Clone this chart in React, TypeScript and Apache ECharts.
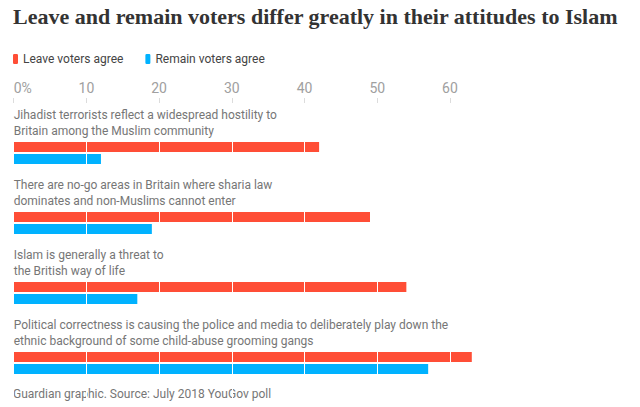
import React, { useEffect, useRef } from "react";
import * as echarts from "echarts";

const categories = [
  "Jihadist terrorists reflect a widespread hostility to\nBritain among the Muslim community",
  "There are no-go areas in Britain where sharia law\ndominates and non-Muslims cannot enter",
  "Islam is generally a threat to\nthe British way of life",
  "Political correctness is causing the police and media to deliberately play down the\nethnic background of some child-abuse grooming gangs",
];
const leaveValues = [42, 49, 54, 63];
const remainValues = [12, 19, 17, 57];
const tickValues = [0, 10, 20, 30, 40, 50, 60];
const seriesNames = ["Leave voters agree", "Remain voters agree"];
const titleText = "Leave and remain voters differ greatly in their attitudes to Islam";
const sourceText = "Guardian graphic. Source: July 2018 YouGov poll";

const SANS = "Roboto, 'Noto Sans', sans-serif";

export default function App() {
  const ref = useRef<HTMLDivElement>(null);
  useEffect(() => {
    document.body.style.margin = "0";
    const chart = echarts.init(ref.current!, null, { renderer: "svg" });
    chart.setOption({
      animation: false,
      backgroundColor: "#ffffff",
      title: {
        text: titleText,
        left: 8,
        top: 0,
        textStyle: {
          fontFamily: "Liberation Serif",
          fontWeight: "bold",
          fontSize: 22,
          color: "#333333",
        },
      },
      legend: {
        data: seriesNames,
        left: 8,
        top: 48,
        icon: "roundRect",
        itemWidth: 5,
        itemHeight: 10,
        itemGap: 22,
        textStyle: { fontFamily: SANS, fontSize: 12, color: "#444444" },
      },
      grid: { left: 13.7, right: 117.3, top: 118, bottom: 9, containLabel: false },
      xAxis: {
        type: "value",
        position: "top",
        min: 0,
        max: 70,
        interval: 10,
        offset: 15,
        z: 5,
        axisLine: { show: false },
        axisTick: {
          show: true,
          length: 5,
          lineStyle: { color: "#dcdcdc" },
          customValues: tickValues,
        },
        axisLabel: {
          customValues: tickValues,
          formatter: (v: number) => (v === 0 ? "0%" : String(v)),
          margin: 8,
          color: "#a0a0a0",
          fontSize: 14,
          fontFamily: SANS,
          alignMinLabel: "left",
        },
        splitLine: { show: true, lineStyle: { color: "#ffffff", width: 1 } },
      },
      yAxis: {
        type: "category",
        data: categories,
        inverse: true,
        z: 10,
        axisLine: { show: false },
        axisTick: { show: false },
        splitLine: { show: false },
        axisLabel: {
          inside: true,
          margin: 0,
          align: "left",
          verticalAlign: "bottom",
          padding: [0, 0, 14, 0],
          lineHeight: 16,
          fontSize: 12,
          color: "#767676",
          fontFamily: SANS,
        },
      },
      series: [
        {
          name: seriesNames[0],
          type: "bar",
          data: leaveValues,
          barWidth: 10,
          barGap: "20%",
          itemStyle: { color: "#ff4e36" },
          z: 2,
        },
        {
          name: seriesNames[1],
          type: "bar",
          data: remainValues,
          barWidth: 10,
          barGap: "20%",
          itemStyle: { color: "#00b2ff" },
          z: 2,
        },
      ],
      graphic: [
        {
          type: "text",
          left: 13,
          top: 388,
          style: { text: sourceText, fill: "#767676", font: `12px ${SANS}` },
        },
      ],
    });
    return () => chart.dispose();
  }, []);
  return <div ref={ref} style={{ width: 640, height: 407 }} />;
}
